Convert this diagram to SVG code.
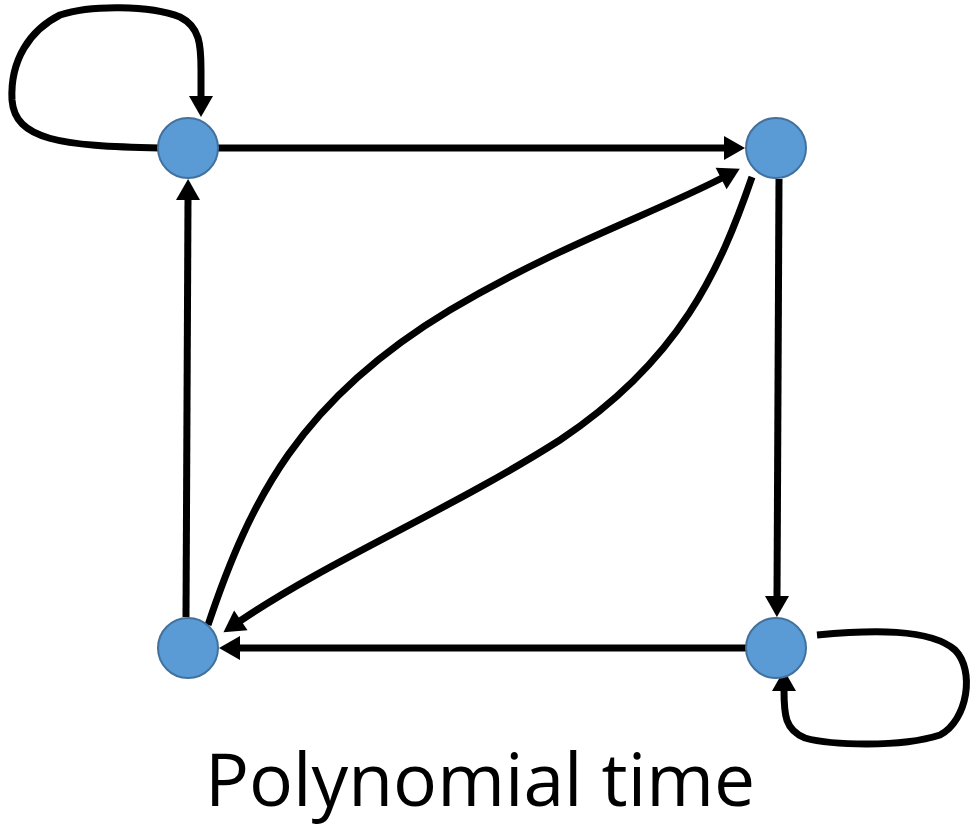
<svg xmlns="http://www.w3.org/2000/svg" width="974" height="827" viewBox="0 0 974 827">
<defs>
<marker id="ah" markerUnits="userSpaceOnUse" markerWidth="26" markerHeight="26" viewBox="0 -13 22 26" refX="1" refY="0" orient="auto">
<path d="M0,-12 L21,0 L0,12 z" fill="#000"/>
</marker>
<style>
.e{fill:none;stroke:#000;stroke-width:7;marker-end:url(#ah)}
.n{fill:#5B9BD5;stroke:#41719C;stroke-width:2}
.t{font-family:"Open Sans","Noto Sans",sans-serif;font-size:73px;fill:#000}
</style>
</defs>
<rect width="974" height="827" fill="#fff"/>
<g id="edges">
<path class="e" d="M160,148 C60,146 15,140 12,100 C10,60 30,30 60,15 C90,5 150,5 180,17 C200,27 201,45 201,70 L201,97"/>
<path class="e" d="M218,148 L725,148"/>
<path class="e" d="M779,179 L777,597"/>
<path class="e" d="M746,648 L239,648"/>
<path class="e" d="M186,617 L188,199"/>
<path class="e" d="M208,625 C250,500 300,400 450,310 C560,245 650,215 722,178"/>
<path class="e" d="M752,177 C720,270 680,360 560,440 C450,510 330,560 240,621"/>
<path class="e" d="M817,635 C870,630 930,628 955,650 C975,670 968,720 940,735 C900,748 830,745 805,738 C785,730 784,715 784,690"/>
</g>
<g id="n1"><circle class="n" cx="188" cy="148" r="30"/></g>
<g id="n2"><circle class="n" cx="776" cy="148" r="30"/></g>
<g id="n3"><circle class="n" cx="188" cy="648" r="30"/></g>
<g id="n4"><circle class="n" cx="776" cy="648" r="30"/></g>
<g id="label"><text class="t" x="205" y="806" textLength="550" lengthAdjust="spacingAndGlyphs">Polynomial time</text></g>
</svg>
